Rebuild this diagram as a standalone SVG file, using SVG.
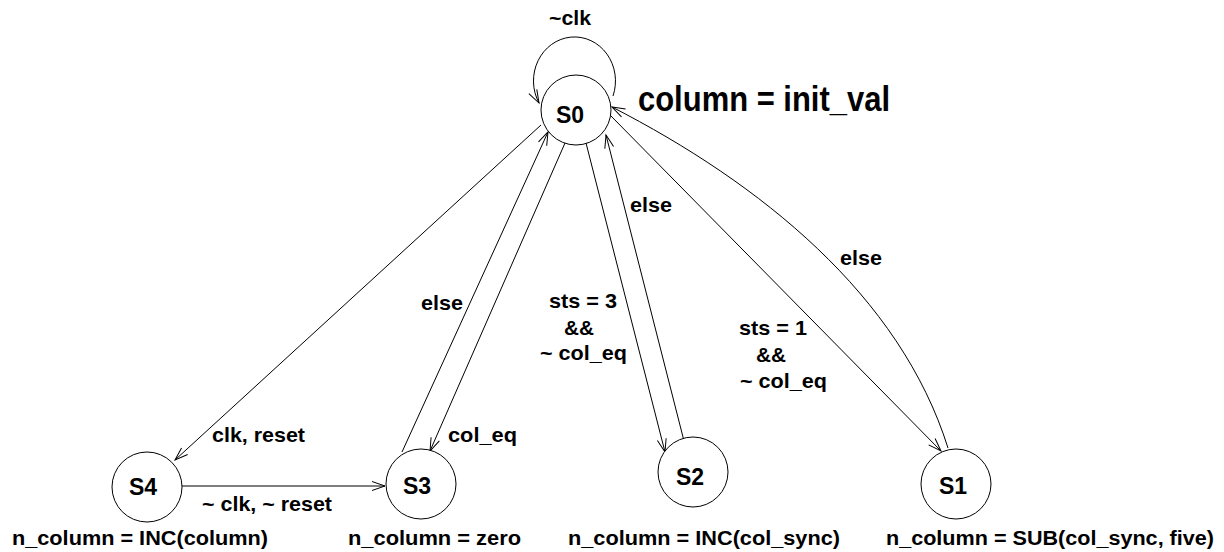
<svg xmlns="http://www.w3.org/2000/svg" width="1224" height="552" viewBox="0 0 1224 552">
  <style>
    .node { fill: #ffffff; stroke: #000000; stroke-width: 1; }
    .edge { fill: none; stroke: #000000; stroke-width: 1; marker-end: url(#arrow); }
    text { font-family: "Liberation Sans", Arial, Helvetica, sans-serif; font-weight: bold; fill: #000000; }
    .state { font-size: 23px; text-anchor: middle; }
    .lbl { font-size: 21px; }
    .out { font-size: 20px; }
    .big { font-size: 35px; }
  </style>
  <defs>
    <marker id="arrow" markerUnits="userSpaceOnUse" markerWidth="16" markerHeight="12" viewBox="-14 -6 16 12" refX="0" refY="0" orient="auto">
      <path d="M-13,-4.5 L0,0 L-13,4.5" fill="none" stroke="#000000" stroke-width="1"/>
    </marker>
  </defs>

  <!-- transitions -->
  <g id="connectors">
    <path class="edge" d="M613 96 A 41 44 0 1 0 539 103"/>
    <path class="edge" d="M541 125 L175 460"/>
    <path class="edge" d="M182 486 L385 486"/>
    <path class="edge" d="M402 452 L548 132"/>
    <path class="edge" d="M565 143 L430 451"/>
    <path class="edge" d="M586 143 L665 452"/>
    <path class="edge" d="M684 441 L606 135"/>
    <path class="edge" d="M611 116 L941 451"/>
    <path class="edge" d="M948 448 C 900 295, 760 183, 612 107"/>

    <text class="lbl" x="549" y="25" textLength="42" lengthAdjust="spacingAndGlyphs">~clk</text>
    <text class="lbl" x="212" y="442" textLength="93" lengthAdjust="spacingAndGlyphs">clk, reset</text>
    <text class="lbl" x="202" y="511" textLength="130" lengthAdjust="spacingAndGlyphs">~ clk, ~ reset</text>
    <text class="lbl" x="421" y="310" textLength="42" lengthAdjust="spacingAndGlyphs">else</text>
    <text class="lbl" x="448" y="442" textLength="69" lengthAdjust="spacingAndGlyphs">col_eq</text>
    <text class="lbl" x="549" y="308" textLength="68" lengthAdjust="spacingAndGlyphs">sts = 3</text>
    <text class="lbl" x="564" y="335" textLength="30" lengthAdjust="spacingAndGlyphs">&amp;&amp;</text>
    <text class="lbl" x="540" y="360" textLength="87" lengthAdjust="spacingAndGlyphs">~ col_eq</text>
    <text class="lbl" x="630" y="212" textLength="42" lengthAdjust="spacingAndGlyphs">else</text>
    <text class="lbl" x="739" y="335" textLength="68" lengthAdjust="spacingAndGlyphs">sts = 1</text>
    <text class="lbl" x="756" y="362" textLength="30" lengthAdjust="spacingAndGlyphs">&amp;&amp;</text>
    <text class="lbl" x="740" y="388" textLength="87" lengthAdjust="spacingAndGlyphs">~ col_eq</text>
    <text class="lbl" x="840" y="265" textLength="42" lengthAdjust="spacingAndGlyphs">else</text>
  </g>

  <!-- states -->
  <g id="S0">
    <circle class="node" cx="576" cy="110" r="35"/>
    <text class="state" x="570" y="123">S0</text>
    <text class="big" x="638" y="111" textLength="252" lengthAdjust="spacingAndGlyphs">column = init_val</text>
  </g>
  <g id="S4">
    <circle class="node" cx="147" cy="487" r="35"/>
    <text class="state" x="143" y="495">S4</text>
    <text class="out" x="12" y="545" textLength="256" lengthAdjust="spacingAndGlyphs">n_column = INC(column)</text>
  </g>
  <g id="S3">
    <circle class="node" cx="421" cy="484" r="35"/>
    <text class="state" x="417" y="494">S3</text>
    <text class="out" x="348" y="545" textLength="173" lengthAdjust="spacingAndGlyphs">n_column = zero</text>
  </g>
  <g id="S2">
    <circle class="node" cx="693" cy="472" r="35"/>
    <text class="state" x="690" y="485">S2</text>
    <text class="out" x="568" y="545" textLength="272" lengthAdjust="spacingAndGlyphs">n_column = INC(col_sync)</text>
  </g>
  <g id="S1">
    <circle class="node" cx="956" cy="484" r="35"/>
    <text class="state" x="953" y="494">S1</text>
    <text class="out" x="886" y="545" textLength="328" lengthAdjust="spacingAndGlyphs">n_column = SUB(col_sync, five)</text>
  </g>
</svg>
